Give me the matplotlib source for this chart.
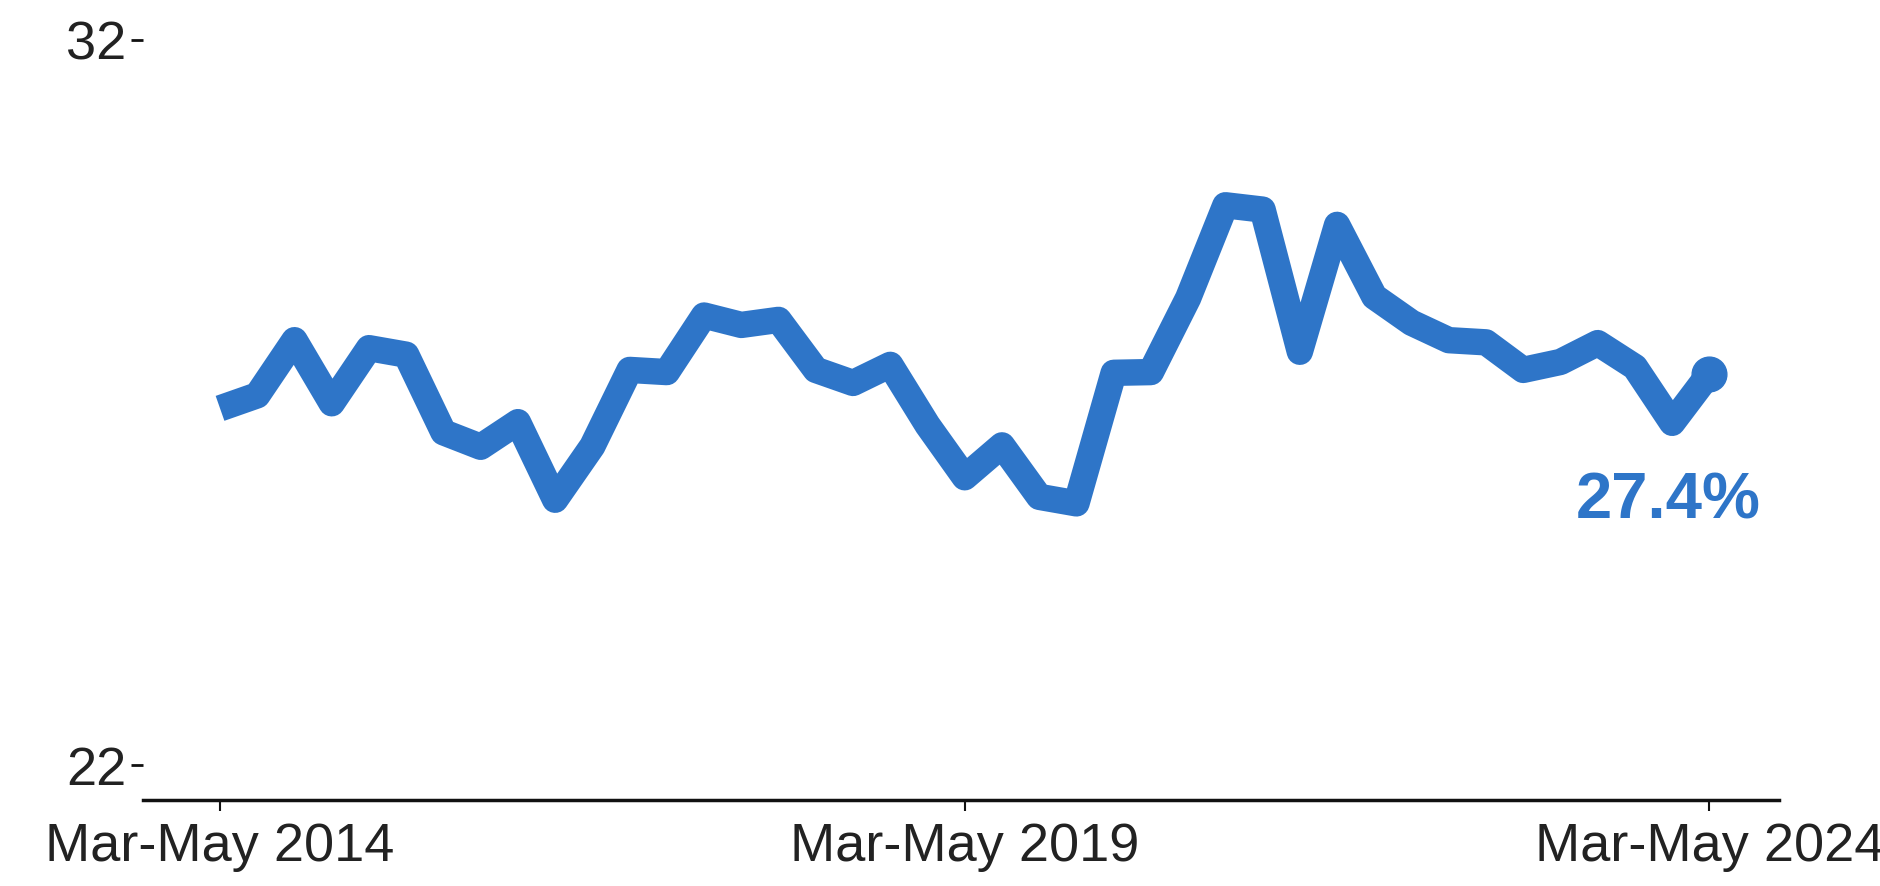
import matplotlib.pyplot as plt

plt.rcParams['font.family'] = ['Liberation Sans', 'DejaVu Sans']

# quarterly rolling values, Mar-May 2014 .. Mar-May 2024
VALUES = [26.92, 27.10, 27.86, 26.99, 27.75, 27.66, 26.59, 26.39, 26.73, 25.66,
          26.40, 27.45, 27.42, 28.20, 28.07, 28.14, 27.45, 27.27, 27.52, 26.69,
          25.97, 26.41, 25.70, 25.61, 27.41, 27.42, 28.44, 29.72, 29.66, 27.70,
          29.45, 28.46, 28.10, 27.86, 27.83, 27.45, 27.56, 27.82, 27.49, 26.72,
          27.40]
TICK_POS = [0, 20, 40]
TICK_LABELS = ['Mar-May 2014', 'Mar-May 2019', 'Mar-May 2024']
Y_TICKS = [22, 32]
LAST_LABEL = '27.4%'

BLUE = '#2E75C8'
TEXT = '#222222'


def main():
    """
    draw the line chart and save it
    """
    fig = plt.figure(figsize=(18.81, 8.86), dpi=100)
    ax = fig.add_axes([0.076, 0.097, 0.870, 0.858])

    xs = list(range(len(VALUES)))
    ax.plot(xs, VALUES, color=BLUE, linewidth=19,
            solid_joinstyle='round', solid_capstyle='butt')
    ax.plot(xs[-1], VALUES[-1], 'o', color=BLUE, markersize=25)

    ax.annotate(LAST_LABEL, xy=(xs[-1], VALUES[-1]),
                xytext=(-41, -145), textcoords='offset pixels',
                ha='center', va='baseline', color=BLUE,
                fontsize=47, fontweight='bold')

    ax.set_xlim(-2.07, 41.88)
    ax.set_ylim(21.52, 32.0)
    ax.set_xticks(TICK_POS)
    ax.set_xticklabels(TICK_LABELS)
    ax.set_yticks(Y_TICKS)

    for side in ['top', 'right', 'left']:
        ax.spines[side].set_visible(False)
    ax.spines['bottom'].set_linewidth(2.5)
    ax.spines['bottom'].set_color('#111111')

    ax.tick_params(axis='x', length=8, width=1.5, colors='#111111',
                   labelsize=39, labelcolor=TEXT, pad=8)
    ax.tick_params(axis='y', length=9, width=2, colors='#111111',
                   labelsize=39, labelcolor=TEXT, pad=3)

    fig.savefig('out.png', dpi=100, facecolor='white')


if __name__ == "__main__":
    main()
